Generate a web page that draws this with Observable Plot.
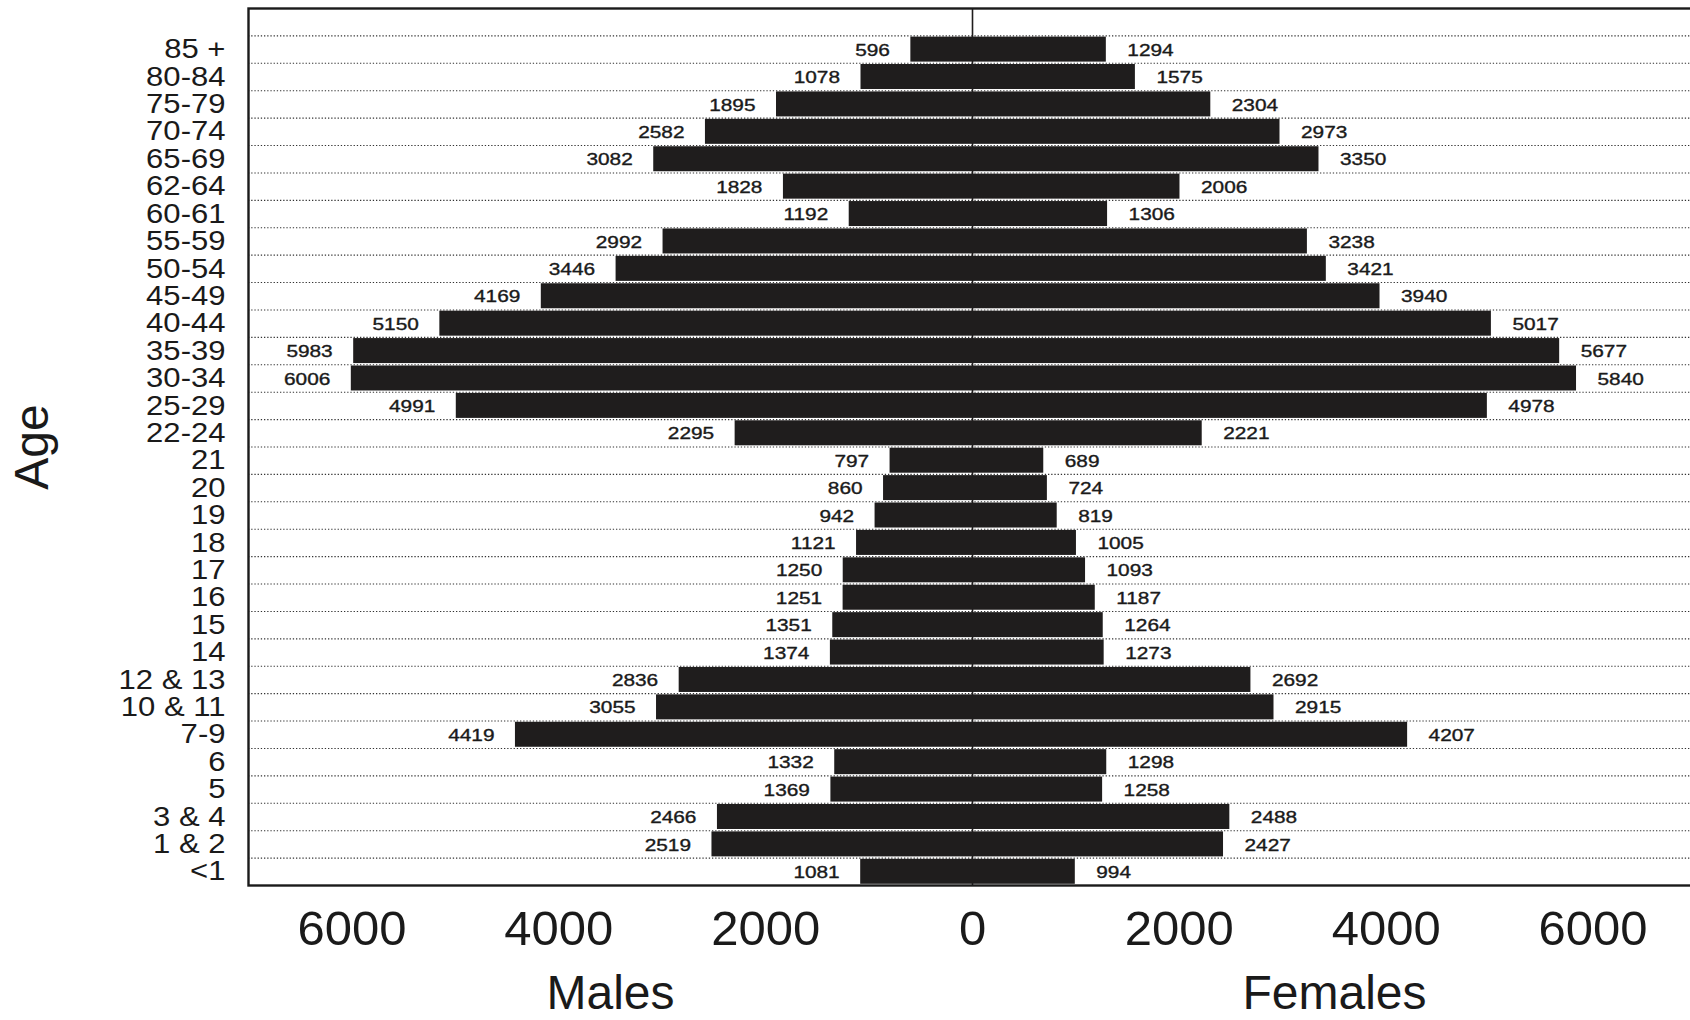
<!DOCTYPE html>
<html>
<head>
<meta charset="utf-8">
<script src="https://cdn.jsdelivr.net/npm/d3@7"></script>
<script src="https://cdn.jsdelivr.net/npm/@observablehq/plot@0.6"></script>
<style>
  html, body { margin: 0; padding: 0; background: #fff; overflow: hidden; }
  #chart svg { max-width: none !important; }
  #chart svg [aria-label^="x-axis"] text { font-size: 49px; }
  #chart svg [aria-label^="y-axis"] text { font-size: 27px; }
</style>
</head>
<body>
<div id="chart"></div>
<script>
// ---- data ----
const ages = ["85 +", "80-84", "75-79", "70-74", "65-69", "62-64", "60-61", "55-59", "50-54", "45-49",
  "40-44", "35-39", "30-34", "25-29", "22-24", "21", "20", "19", "18", "17", "16", "15", "14",
  "12 & 13", "10 & 11", "7-9", "6", "5", "3 & 4", "1 & 2", "<1"];
const males = [596, 1078, 1895, 2582, 3082, 1828, 1192, 2992, 3446, 4169,
  5150, 5983, 6006, 4991, 2295, 797, 860, 942, 1121, 1250, 1251, 1351, 1374,
  2836, 3055, 4419, 1332, 1369, 2466, 2519, 1081];
const females = [1294, 1575, 2304, 2973, 3350, 2006, 1306, 3238, 3421, 3940,
  5017, 5677, 5840, 4978, 2221, 689, 724, 819, 1005, 1093, 1187, 1264, 1273,
  2692, 2915, 4207, 1298, 1258, 2488, 2427, 994];
const xTicks = [-6000, -4000, -2000, 0, 2000, 4000, 6000];
const sexLabels = ["Males", "Females"];
const axisTitle = "Age";

const rows = ages.map((age, i) => ({age, male: males[i], female: females[i]}));

// ---- layout ----
const W = 1700, H = 1020;
const mTop = 8, mBottom = 135, mLeft = 248, mRight = 4;
const bw = (H - mTop - mBottom) / (ages.length + 1);
const ink = "#1f1d1d";
const font = "'Liberation Sans', Arial, Helvetica, sans-serif";

const plot = Plot.plot({
  width: W,
  height: H,
  marginTop: mTop,
  marginBottom: mBottom,
  marginLeft: mLeft,
  marginRight: mRight,
  style: {fontFamily: font, fontSize: "16px", color: "#1a1a1a", background: "transparent", overflow: "visible", maxWidth: "none"},
  x: {domain: [-7000, 7000], ticks: xTicks, tickFormat: d => String(Math.abs(d)), tickSize: 0, tickPadding: 25, label: null},
  y: {domain: ["", ...ages], padding: 0, round: false, tickSize: 0, tickPadding: 23, label: null},
  marks: [
    Plot.ruleY(ages, {y: d => d, dy: -bw / 2, stroke: "#333", strokeWidth: 1.1, strokeDasharray: "1.3,1.9"}),
    Plot.ruleX([0], {stroke: ink, strokeWidth: 1.6}),
    Plot.barX(rows, {y: "age", x: d => -d.male, fill: ink, insetTop: 1.2, insetBottom: 1.2}),
    Plot.barX(rows, {y: "age", x: d => d.female, fill: ink, insetTop: 1.2, insetBottom: 1.2}),
    Plot.text(rows, {y: "age", x: d => -d.male, text: d => String(d.male), textAnchor: "end", dx: -21, dy: 1,
      fontSize: 16, fill: "#1a1a1a", stroke: "#1a1a1a", strokeWidth: 0.35, ariaDescription: "value-label"}),
    Plot.text(rows, {y: "age", x: d => d.female, text: d => String(d.female), textAnchor: "start", dx: 21, dy: 1,
      fontSize: 16, fill: "#1a1a1a", stroke: "#1a1a1a", strokeWidth: 0.35, ariaDescription: "value-label"}),
    Plot.frame({stroke: "#1a1a1a", strokeWidth: 2.4}),
    Plot.text(sexLabels, {x: (d, i) => (i === 0 ? -3500 : 3500), text: d => d, frameAnchor: "bottom",
      textAnchor: "middle", lineAnchor: "middle", dy: 108, fontSize: 48, fill: "#1a1a1a"}),
    Plot.text([axisTitle], {text: d => d, frameAnchor: "left", textAnchor: "middle", rotate: -90, lineAnchor: "middle",
      dx: -216, dy: 0, fontSize: 48, fill: "#1a1a1a"})
  ]
});

document.getElementById("chart").append(plot);

// The small labels in the reference are set wider than the face; stretch them horizontally.
function stretch(selector, k) {
  plot.querySelectorAll(selector).forEach(t => {
    const len = t.getComputedTextLength();
    if (len > 0) {
      t.setAttribute("textLength", (len * k).toFixed(1));
      t.setAttribute("lengthAdjust", "spacingAndGlyphs");
    }
  });
}
stretch('[aria-description="value-label"] text', 1.3);
stretch('[aria-label^="y-axis"] text', 1.15);
</script>
</body>
</html>
